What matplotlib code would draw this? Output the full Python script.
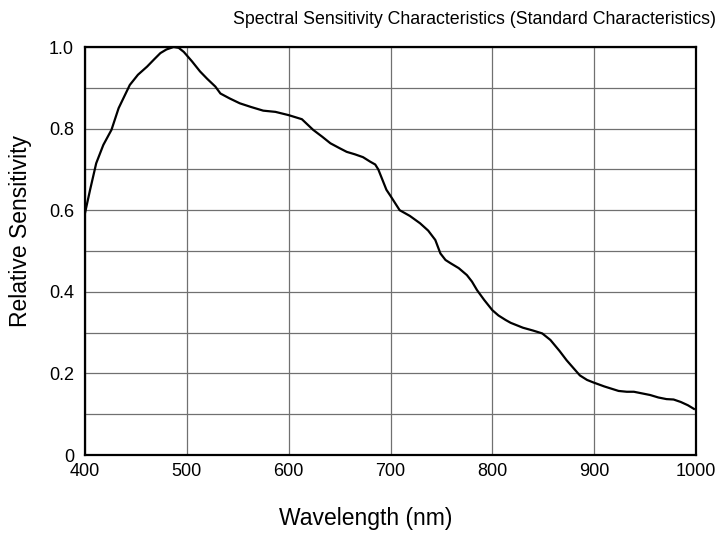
import matplotlib
matplotlib.use("Agg")
import matplotlib.pyplot as plt
from matplotlib.ticker import MultipleLocator

plt.rcParams['font.family'] = ['Liberation Sans', 'DejaVu Sans']

wavelength = [400, 405, 411, 418, 426, 433, 444, 452, 461, 468, 474, 480, 487, 492, 497,
              505, 513, 520, 528, 533, 542, 552, 563, 575, 587, 600, 613, 624, 633, 641,
              650, 657, 665, 673, 680, 685, 688, 692, 696, 700, 709, 719, 729, 737, 744,
              749, 754, 759, 767, 775, 780, 785, 792, 800, 806, 813, 818, 830, 840, 849,
              857, 866, 873, 880, 886, 893, 899, 910, 924, 932, 939, 947, 955, 963, 971,
              978, 985, 992, 998]
sensitivity = [0.593, 0.650, 0.715, 0.760, 0.797, 0.850, 0.907, 0.932, 0.952, 0.970, 0.985,
               0.994, 1.000, 0.998, 0.988, 0.965, 0.940, 0.922, 0.903, 0.886, 0.874, 0.862,
               0.853, 0.844, 0.841, 0.833, 0.823, 0.797, 0.780, 0.764, 0.752, 0.743, 0.737,
               0.730, 0.719, 0.712, 0.700, 0.675, 0.650, 0.635, 0.600, 0.586, 0.568, 0.550,
               0.527, 0.494, 0.478, 0.470, 0.458, 0.441, 0.425, 0.404, 0.380, 0.355, 0.342,
               0.331, 0.324, 0.312, 0.305, 0.298, 0.282, 0.255, 0.232, 0.212, 0.195, 0.184,
               0.178, 0.168, 0.157, 0.155, 0.155, 0.151, 0.147, 0.141, 0.137, 0.136, 0.130,
               0.122, 0.113]

x_ticks = [400, 500, 600, 700, 800, 900, 1000]
y_ticks = [0, 0.2, 0.4, 0.6, 0.8, 1.0]
y_labels = ['0', '0.2', '0.4', '0.6', '0.8', '1.0']

fig = plt.figure(figsize=(7.21, 5.37), dpi=100)
ax = fig.add_axes([85/721, 82/537, 611/721, 408/537])

ax.plot(wavelength, sensitivity, color='black', lw=1.6, zorder=3)

ax.set_xlim(400, 1000)
ax.set_ylim(0, 1.0)
ax.set_xticks(x_ticks)
ax.set_xticklabels([str(t) for t in x_ticks])
ax.set_yticks(y_ticks)
ax.set_yticklabels(y_labels)
ax.yaxis.set_minor_locator(MultipleLocator(0.1))
ax.grid(True, which='both', color='#707070', lw=0.9)
ax.tick_params(which='both', length=0, labelsize=13)
ax.tick_params(axis='y', pad=8)
ax.tick_params(axis='x', pad=6)
for s in ax.spines.values():
    s.set_linewidth(1.6)
    s.set_color('black')
    s.set_zorder(4)

fig.text(366/721, 1 - 518/537, 'Wavelength (nm)', ha='center', va='center', fontsize=16.5)
fig.text(21/721, 1 - 231/537, 'Relative Sensitivity', ha='center', va='center',
         rotation=90, fontsize=16.5)
fig.text(474/721, 1 - 20/537, 'Spectral Sensitivity Characteristics (Standard Characteristics)',
         ha='center', va='center', fontsize=12.8)

fig.savefig('out.png', dpi=100)
